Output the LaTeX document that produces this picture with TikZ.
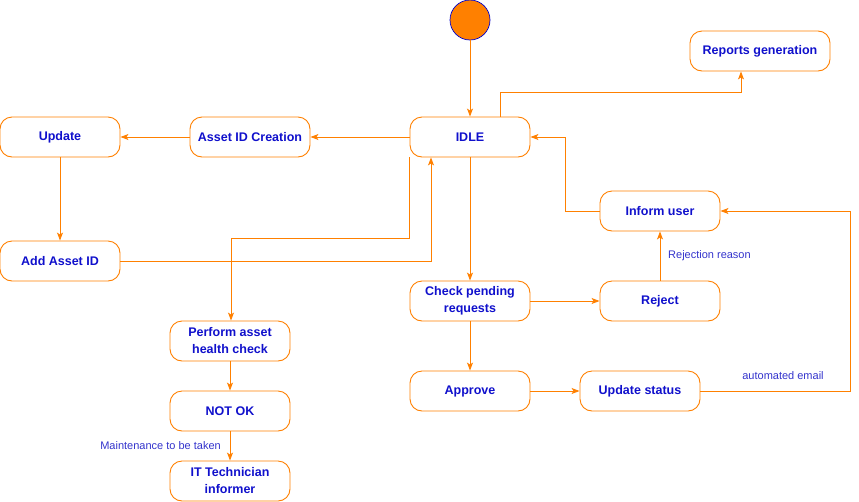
\documentclass[tikz,border=0pt]{standalone}
\usepackage{fontspec}
\setmainfont{Liberation Sans}
\usetikzlibrary{positioning}
\usetikzlibrary{arrows.meta}

\begin{document}
\begin{tikzpicture}[x=1pt,y=-1pt]
\definecolor{flowcolor}{HTML}{FF8000}
\definecolor{textcolor}{HTML}{1010CC}
\definecolor{labelcolor}{HTML}{3333CC}
\tikzstyle{state}=[rectangle, draw=flowcolor, line width=0.9pt, fill=white, rounded corners=12pt,
minimum width=120pt, minimum height=40pt, inner sep=0pt, align=center,
text=textcolor, font=\fontsize{12.5}{17}\selectfont\bfseries]
\tikzstyle{start}=[circle, draw=blue!80!black, fill=flowcolor, line width=0.7pt, minimum size=40pt, inner sep=0pt]
\tikzstyle{flow}=[draw=flowcolor, line width=0.9pt, -{Stealth[length=8pt,width=6pt,inset=2pt]}]
\tikzstyle{edge-label}=[text=labelcolor, font=\fontsize{11}{12}\selectfont, inner sep=1pt]
\useasboundingbox (0,0) rectangle (859,501);

\node[start] (init) at (470,20) {};
\node[state] (idle) at (470,137) {IDLE};
\node[state, minimum width=140pt] (reports) at (760,51) {Reports generation};
\node[state] (creation) at (250,137) {Asset ID Creation};
\node[state] (update) at (60,137) {Update};
\node[state] (addid) at (60,261) {Add Asset ID};
\node[state] (inform) at (660,211) {Inform user};
\node[state] (pending) at (470,301) {Check pending\\requests};
\node[state] (reject) at (660,301) {Reject};
\node[state] (approve) at (470,391) {Approve};
\node[state] (status) at (640,391) {Update status};
\node[state] (health) at (230,341) {Perform asset\\health check};
\node[state] (notok) at (230,411) {NOT OK};
\node[state] (techie) at (230,481) {IT Technician\\informer};

\draw[flow] (init) -- (idle);
\draw[flow] ([xshift=30pt]idle.north) -- ++(0,-24) -| ([xshift=-19pt]reports.south);
\draw[flow] (idle) -- (creation);
\draw[flow] (creation) -- (update);
\draw[flow] (update) -- (addid);
\draw[flow] (addid.east) -| ([xshift=-39pt]idle.south);
\draw[flow] (idle.south west) -- ++(0,81) -| ([xshift=1pt]health.north);
\draw[flow] (idle) -- (pending);
\draw[flow] (pending) -- (reject);
\draw[flow] (pending) -- (approve);
\draw[flow] (approve) -- (status);
\draw[flow] (status.east) -- ++(150,0) |- (inform.east);
\draw[flow] (reject) -- (inform);
\draw[flow] (inform.west) -- ++(-34,0) |- (idle.east);
\draw[flow] (health) -- (notok);
\draw[flow] (notok) -- (techie);

\node[edge-label, anchor=west] (lbl-reject) at (667,256) {Rejection reason};
\node[edge-label] (lbl-email) at (783,376) {automated email};
\node[edge-label, anchor=east] (lbl-maint) at (222,446) {Maintenance to be taken};

\end{tikzpicture}
\end{document}
